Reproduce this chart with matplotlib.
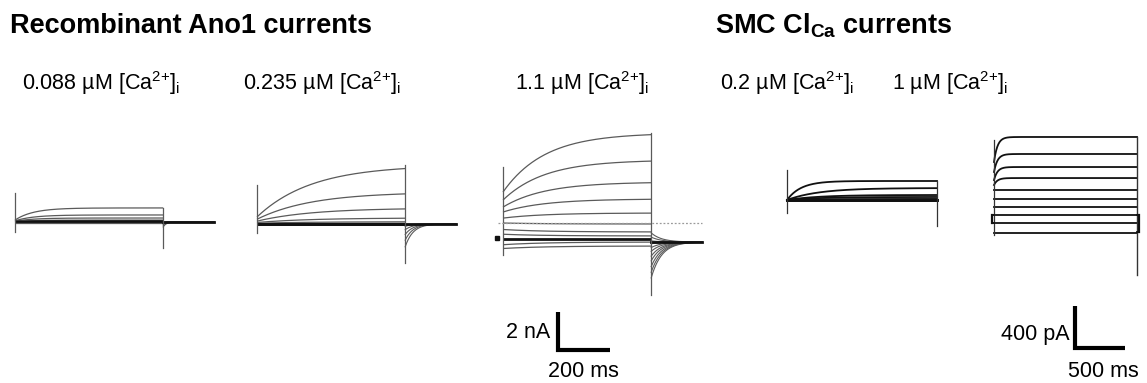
import numpy as np
import matplotlib
matplotlib.use("Agg")
import matplotlib.pyplot as plt

plt.rcParams['font.family'] = ['Liberation Sans', 'DejaVu Sans']
plt.rcParams['mathtext.default'] = 'regular'

W, H = 1147, 383

# ---------------- text ----------------
group_titles = ["Recombinant Ano1 currents", "SMC Cl$_{Ca}$ currents"]
panel_labels = ["0.088 µM [Ca$^{2{+}}$]$_i$", "0.235 µM [Ca$^{2{+}}$]$_i$",
                "1.1 µM [Ca$^{2{+}}$]$_i$", "0.2 µM [Ca$^{2{+}}$]$_i$",
                "1 µM [Ca$^{2{+}}$]$_i$"]
scale_labels = ["2 nA", "200 ms", "400 pA", "500 ms"]

# ---------------- data: recombinant Ano1 (nA, ms) ----------------
ano1_pulse_ms = 570
ano1_tail_ms = 195
ano1_bar = [2, 200]          # nA, ms

p1_ss = [0.74, 0.37, 0.21, 0.10, 0.05, 0.02, 0.0, -0.02, -0.04]
p1_inst = [0.10, 0.06, 0.04, 0.02, 0.01, 0.0, 0.0, -0.02, -0.04]
p1_tau = 70
p1_tail = [-0.26, -0.16, -0.10, -0.05, -0.03, -0.01, 0.0, 0.0, 0.0]
p1_tail_tau = 12
p1_art = [1.53, -0.53, 0.74, -1.37]

p2_ss = [3.10, 1.68, 0.84, 0.32, 0.12, 0.04, 0.0, -0.02]
p2_inst = [0.37, 0.25, 0.15, 0.08, 0.04, 0.02, 0.0, -0.02]
p2_tau = 210
p2_tail = [-1.20, -0.85, -0.55, -0.30, -0.12, -0.05, 0.0, 0.0]
p2_tail_tau = 30
p2_art = [2.05, -0.47, 3.10, -2.05]

p3_ss = [5.58, 4.16, 3.00, 2.11, 1.37, 0.79, 0.37, 0.16, 0.0, -0.16, -0.37]
p3_inst = [2.47, 2.05, 1.68, 1.42, 1.10, 0.84, 0.50, 0.25, 0.0, -0.30, -0.50]
p3_tau = 160
p3_tail = [-2.05, -1.75, -1.45, -1.15, -0.90, -0.65, -0.45, -0.25, -0.10, 0.10, 0.32]
p3_tail_end = -0.16
p3_tail_tau = 40
p3_zero = 0.84
p3_art = [3.79, -0.84, 5.58, -2.95]

# ---------------- data: SMC ClCa (pA, ms) ----------------
smc_bar = [400, 500]         # pA, ms
p4_pulse_ms = 1500
p4_ss = [181, 114, 48, 29, 10, 0, 0]
p4_tau = [140, 320, 320, 320, 320, 320, 320]
p4_art = [286, -124, 181, -248]

p5_pulse_ms = 1430
p5_ss = [743, 581, 457, 352, 238, 152, 76, 0, -76, -171]
p5_inst = [505, 410, 333, 286, 238, 152, 76, 0, -76, -171]
p5_tau = 35
p5_art = [714, -190, 743, -571]
p5_box = [-20, 1450, -76, -162]

# ---------------- layout (pixel origin, px per ms, px per unit) ----------------
panels = {
    "p1": (15, 222, 0.26, 19.0),
    "p2": (257, 224, 0.26, 19.0),
    "p3": (503, 239, 0.26, 19.0),
    "p4": (787, 200, 0.10, 0.105),
    "p5": (994, 215, 0.10, 0.105),
}

fig = plt.figure(figsize=(W / 100, H / 100), dpi=100)


def make_ax(key):
    x0, y0, pxt, pxu = panels[key]
    ax = fig.add_axes([0, 0, 1, 1])
    ax.set_xlim((0 - x0) / pxt, (W - x0) / pxt)
    ax.set_ylim((y0 - H) / pxu, (y0 - 0) / pxu)
    ax.axis('off')
    ax.patch.set_alpha(0)
    return ax


GRAY = '#5a5a5a'
BLACK = '#111111'


def ano1_panel(key, ss, inst, tau, tail, tail_tau, art, tail_end=0.0):
    ax = make_ax(key)
    t = np.linspace(0, ano1_pulse_ms, 400)
    tt = np.linspace(0, ano1_tail_ms, 200)
    for s, i0 in zip(ss, inst):
        y = i0 + (s - i0) * (1 - np.exp(-t / tau))
        thick = abs(s) < 0.03 and abs(i0) < 0.03
        ax.plot(t, y, color=BLACK if thick else GRAY,
                lw=2.0 if thick else 0.9, solid_capstyle='butt')
    for a in tail:
        y = tail_end + (a - tail_end) * np.exp(-tt / tail_tau)
        ax.plot(ano1_pulse_ms + tt, y, color=GRAY, lw=0.8)
    ax.plot([ano1_pulse_ms, ano1_pulse_ms + ano1_tail_ms], [tail_end, tail_end],
            color=BLACK, lw=2.0)
    ax.plot([0, 0], art[:2], color=GRAY, lw=0.9)
    ax.plot([ano1_pulse_ms, ano1_pulse_ms], art[2:], color=GRAY, lw=0.9)
    return ax


ano1_panel("p1", p1_ss, p1_inst, p1_tau, p1_tail, p1_tail_tau, p1_art)
ano1_panel("p2", p2_ss, p2_inst, p2_tau, p2_tail, p2_tail_tau, p2_art)
ax3 = ano1_panel("p3", p3_ss, p3_inst, p3_tau, p3_tail, p3_tail_tau, p3_art,
                 tail_end=p3_tail_end)
ax3.plot([-20, ano1_pulse_ms + ano1_tail_ms], [p3_zero, p3_zero],
         color='#9a9a9a', lw=0.9, ls=(0, (1.5, 1.5)))
ax3.plot([-22], [0.05], marker='s', ms=2.5, color=BLACK)
# Ano1 scale bar
bx, by = 211.5, -5.84
ax3.plot([bx, bx, bx + ano1_bar[1]], [by + ano1_bar[0], by, by],
         color='black', lw=3.0, solid_joinstyle='miter', solid_capstyle='butt')

# SMC panel 4
ax4 = make_ax("p4")
t4 = np.linspace(0, p4_pulse_ms, 400)
for s, tau in zip(p4_ss, p4_tau):
    ax4.plot(t4, s * (1 - np.exp(-t4 / tau)), color=BLACK,
             lw=1.3 if s > 5 else 2.0)
ax4.plot([0, 0], p4_art[:2], color='#333333', lw=0.9)
ax4.plot([p4_pulse_ms, p4_pulse_ms], p4_art[2:], color='#333333', lw=0.9)

# SMC panel 5
ax5 = make_ax("p5")
t5 = np.linspace(0, p5_pulse_ms, 400)
for s, i0 in zip(p5_ss, p5_inst):
    ax5.plot(t5, i0 + (s - i0) * (1 - np.exp(-t5 / p5_tau)), color=BLACK, lw=1.3)
ax5.plot([0, 0], p5_art[:2], color='#333333', lw=0.9)
ax5.plot([p5_pulse_ms, p5_pulse_ms], p5_art[2:], color='#333333', lw=1.0)
bl, br, bb1, bb2 = p5_box
ax5.plot([bl, bl], [0, bb1], color=BLACK, lw=1.6)
ax5.plot([bl, 0], [0, 0], color=BLACK, lw=1.3)
ax5.plot([bl, 0], [bb1, bb1], color=BLACK, lw=1.3)
ax5.plot([br, br], [0, bb2], color=BLACK, lw=1.6)
ax5.plot([p5_pulse_ms, br], [0, 0], color=BLACK, lw=1.3)
ax5.plot([p5_pulse_ms, br], [bb2, bb2], color=BLACK, lw=1.3)
# SMC scale bar
sx, sy = 810, -1267
ax5.plot([sx, sx, sx + smc_bar[1]], [sy + smc_bar[0], sy, sy],
         color='black', lw=3.0, solid_joinstyle='miter', solid_capstyle='butt')


def ftext(x, y, s, **kw):
    fig.text(x / W, 1 - y / H, s, **kw)


ftext(10, 33, group_titles[0], fontsize=19.5, fontweight='bold', va='baseline')
ftext(715, 33, group_titles[1], fontsize=19.5, fontweight='bold', va='baseline')
for (x, s) in zip([22, 243, 515, 720, 892], panel_labels):
    ftext(x, 90, s, fontsize=15.5, va='baseline')
ftext(550, 338, scale_labels[0], fontsize=15.5, va='baseline', ha='right')
ftext(583, 377, scale_labels[1], fontsize=15.5, va='baseline', ha='center')
ftext(1070, 340, scale_labels[2], fontsize=15.5, va='baseline', ha='right')
ftext(1103, 377, scale_labels[3], fontsize=15.5, va='baseline', ha='center')

fig.savefig("out.png", dpi=100)
